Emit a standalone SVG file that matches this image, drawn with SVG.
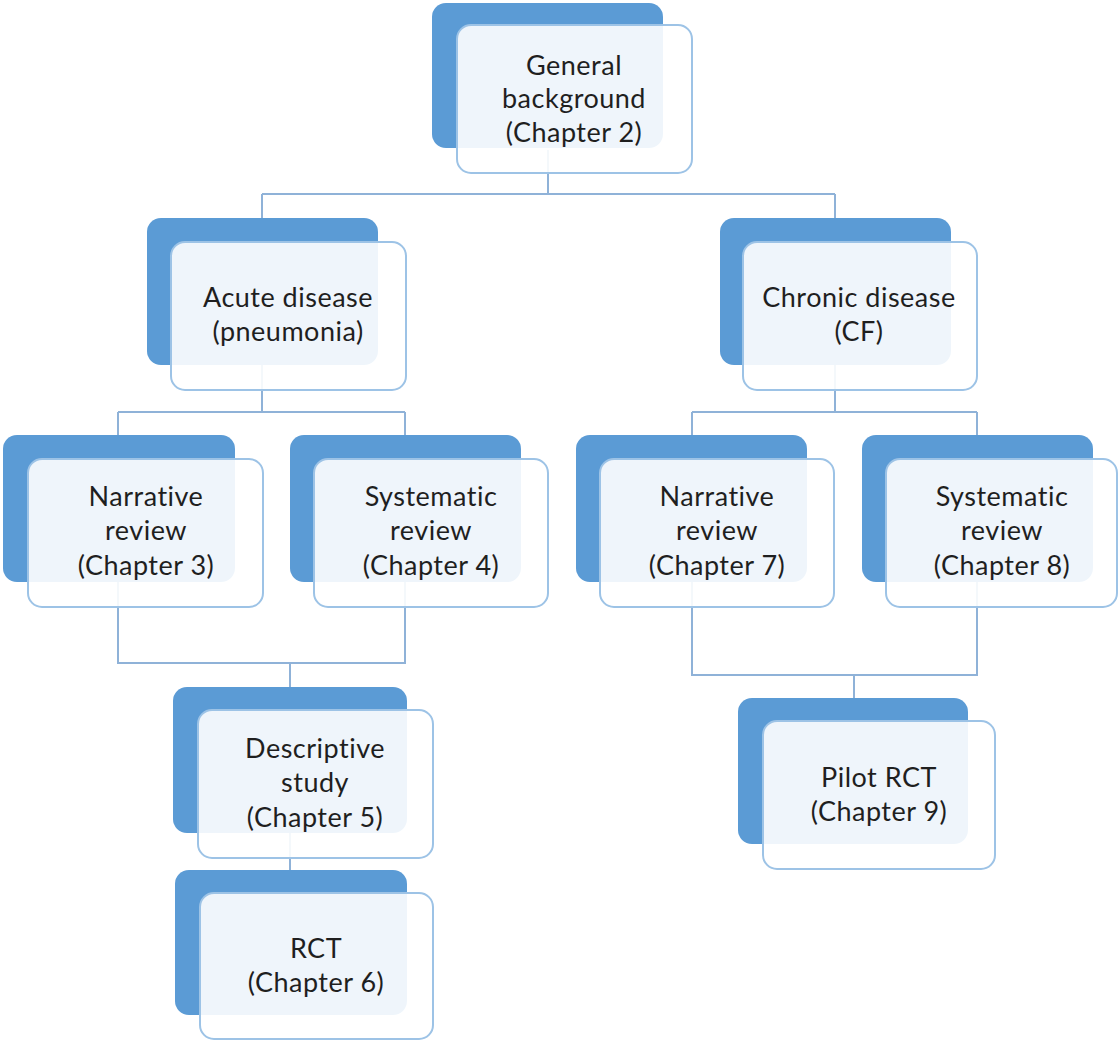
<svg xmlns="http://www.w3.org/2000/svg" width="1119" height="1041" viewBox="0 0 1119 1041">
  <style>
    .back { fill: #5b9bd5; }
    .front { fill: #ffffff; fill-opacity: 0.9; stroke: #9dc3e6; stroke-width: 2; }
    .label { font-family: Lato, "Open Sans", "Liberation Sans", sans-serif; font-size: 27px; letter-spacing: 0.5px; fill: #1f1f1f; text-anchor: middle; }
    .wire { fill: none; stroke: #8fb2d8; stroke-width: 2; }
  </style>
  <rect width="1119" height="1041" fill="#ffffff"/>

  <!-- connectors, drawn beneath the nodes -->
  <g id="connectors" class="wire">
    <path d="M548,150 V194 M262,194 H835 M262,194 V218 M835,194 V218"/>
    <path d="M262,365 V412 M118,412 H405 M118,412 V435 M405,412 V435"/>
    <path d="M835,365 V412 M692,412 H977 M692,412 V435 M977,412 V435"/>
    <path d="M118,582 V663 H405 V582 M290,663 V687"/>
    <path d="M290,833 V870"/>
    <path d="M692,582 V675 H977 V582 M854,675 V698"/>
  </g>

  <g id="general">
    <rect class="back" x="432" y="3" width="231" height="145" rx="14"/>
    <rect class="front" x="457" y="25" width="235" height="148" rx="14"/>
    <text class="label" x="574" y="75">General</text>
    <text class="label" x="574" y="108">background</text>
    <text class="label" x="574" y="142">(Chapter 2)</text>
  </g>

  <g id="acute">
    <rect class="back" x="147" y="218" width="231" height="147" rx="14"/>
    <rect class="front" x="171" y="242" width="235" height="148" rx="14"/>
    <text class="label" x="288" y="307">Acute disease</text>
    <text class="label" x="288" y="341">(pneumonia)</text>
  </g>

  <g id="chronic">
    <rect class="back" x="720" y="218" width="231" height="147" rx="14"/>
    <rect class="front" x="743" y="242" width="234" height="148" rx="14"/>
    <text class="label" x="859" y="307">Chronic disease</text>
    <text class="label" x="859" y="341">(CF)</text>
  </g>

  <g id="narrative-3">
    <rect class="back" x="3" y="435" width="232" height="147" rx="14"/>
    <rect class="front" x="28" y="459" width="235" height="148" rx="14"/>
    <text class="label" x="146" y="506">Narrative</text>
    <text class="label" x="146" y="540">review</text>
    <text class="label" x="146" y="575">(Chapter 3)</text>
  </g>

  <g id="systematic-4">
    <rect class="back" x="290" y="435" width="231" height="147" rx="14"/>
    <rect class="front" x="314" y="459" width="234" height="148" rx="14"/>
    <text class="label" x="431" y="506">Systematic</text>
    <text class="label" x="431" y="540">review</text>
    <text class="label" x="431" y="575">(Chapter 4)</text>
  </g>

  <g id="narrative-7">
    <rect class="back" x="576" y="435" width="231" height="147" rx="14"/>
    <rect class="front" x="600" y="459" width="234" height="148" rx="14"/>
    <text class="label" x="717" y="506">Narrative</text>
    <text class="label" x="717" y="540">review</text>
    <text class="label" x="717" y="575">(Chapter 7)</text>
  </g>

  <g id="systematic-8">
    <rect class="back" x="862" y="435" width="231" height="147" rx="14"/>
    <rect class="front" x="886" y="459" width="231" height="148" rx="14"/>
    <text class="label" x="1002" y="506">Systematic</text>
    <text class="label" x="1002" y="540">review</text>
    <text class="label" x="1002" y="575">(Chapter 8)</text>
  </g>

  <g id="descriptive">
    <rect class="back" x="173" y="687" width="234" height="146" rx="14"/>
    <rect class="front" x="198" y="710" width="235" height="148" rx="14"/>
    <text class="label" x="315" y="758">Descriptive</text>
    <text class="label" x="315" y="792">study</text>
    <text class="label" x="315" y="827">(Chapter 5)</text>
  </g>

  <g id="rct">
    <rect class="back" x="175" y="870" width="232" height="145" rx="14"/>
    <rect class="front" x="200" y="893" width="233" height="146" rx="14"/>
    <text class="label" x="316" y="958">RCT</text>
    <text class="label" x="316" y="992">(Chapter 6)</text>
  </g>

  <g id="pilot-rct">
    <rect class="back" x="738" y="698" width="230" height="146" rx="14"/>
    <rect class="front" x="763" y="721" width="232" height="148" rx="14"/>
    <text class="label" x="879" y="787">Pilot RCT</text>
    <text class="label" x="879" y="821">(Chapter 9)</text>
  </g>
</svg>
